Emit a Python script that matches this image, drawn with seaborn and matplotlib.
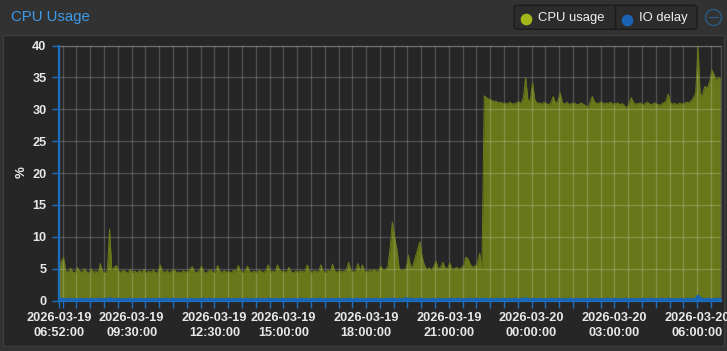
import numpy as np
import pandas as pd
import matplotlib
matplotlib.use("Agg")
import matplotlib.pyplot as plt
import matplotlib.dates as mdates
import seaborn as sns
from matplotlib.patches import Rectangle, FancyBboxPatch
from matplotlib.lines import Line2D

# ---------------- data ----------------
start_time = "2026-03-19 06:52"
sample_step = "5min"

cpu_usage = [
    5.3, 6.2, 6.7, 4.6, 4.4, 5.1, 4.5, 4.3, 5.2, 4.6, 4.4, 5.0,
    4.5, 4.3, 5.0, 4.4, 4.6, 4.3, 5.8, 4.5, 4.4, 4.6, 11.2, 4.7,
    5.2, 5.5, 4.6, 4.4, 4.8, 4.5, 4.3, 4.9, 4.4, 4.6, 4.3, 4.7,
    4.4, 4.9, 4.3, 4.6, 4.4, 4.8, 4.3, 4.5, 5.6, 4.6, 4.4, 4.7,
    4.3, 4.6, 4.9, 4.4, 4.5, 4.3, 4.7, 4.4, 4.6, 4.9, 5.3, 4.5,
    4.4, 4.7, 5.4, 4.5, 4.3, 4.6, 4.8, 4.4, 4.5, 5.5, 4.6, 4.4,
    4.7, 4.4, 4.6, 4.3, 4.8, 4.5, 5.5, 4.6, 4.4, 4.7, 5.4, 4.5,
    4.4, 4.6, 4.3, 4.8, 4.5, 4.4, 4.7, 5.6, 4.5, 4.6, 4.4, 5.6,
    4.8, 4.5, 4.6, 4.4, 5.2, 4.5, 4.3, 4.6, 4.4, 4.7, 4.5, 4.6,
    5.6, 4.6, 4.4, 4.7, 4.5, 4.6, 5.6, 4.5, 4.4, 4.8, 4.5, 5.7,
    4.6, 4.4, 4.7, 4.5, 4.6, 4.8, 6.0, 4.7, 4.5, 4.6, 5.8, 4.7,
    5.6, 4.6, 4.5, 4.7, 4.6, 4.9, 4.6, 4.7, 5.4, 4.8, 4.9, 5.2,
    8.0, 12.3, 10.0, 8.0, 5.0, 4.8, 4.9, 5.0, 7.1, 5.2, 5.5, 6.8,
    8.0, 9.2, 6.8, 5.5, 4.9, 5.1, 4.8, 5.3, 6.2, 5.0, 5.2, 6.0,
    5.1, 5.0, 5.9, 4.9, 5.0, 5.2, 4.9, 5.1, 5.5, 6.8, 6.5, 5.6,
    5.2, 5.4, 5.8, 7.4, 5.0, 32.1, 31.8, 31.6, 31.5, 31.2, 31.3, 31.0,
    31.1, 30.9, 31.0, 30.8, 31.1, 30.9, 30.8, 31.0, 31.2, 30.9, 31.8, 35.0,
    31.5, 31.3, 34.2, 31.5, 30.9, 31.0, 30.8, 31.1, 30.9, 30.7, 31.0, 32.0,
    31.0, 31.2, 32.6, 31.0, 30.8, 31.1, 30.7, 30.9, 31.0, 30.8, 30.7, 31.0,
    30.8, 30.6, 30.2, 31.0, 32.0, 31.1, 30.9, 31.0, 31.2, 30.8, 31.0, 30.9,
    31.1, 30.8, 30.9, 31.0, 30.7, 30.9, 30.6, 30.1, 31.0, 31.8, 31.0, 30.8,
    30.9, 31.0, 30.7, 30.9, 31.1, 30.8, 30.7, 31.0, 30.9, 30.6, 30.8, 31.0,
    31.2, 32.4, 31.0, 30.8, 30.9, 30.7, 31.0, 30.8, 30.9, 31.1, 31.0, 31.3,
    31.8, 32.6, 39.8, 31.8, 32.5, 33.6, 33.3, 34.2, 36.2, 35.4, 34.5, 35.0,
    34.6,
]

io_delay = [
    0.3, 0.2, 0.2, 0.1, 0.2, 0.2, 0.1, 0.2, 0.1, 0.2, 0.2, 0.1,
    0.2, 0.1, 0.2, 0.2, 0.1, 0.2, 0.2, 0.1, 0.2, 0.2, 0.3, 0.2,
    0.1, 0.2, 0.2, 0.1, 0.2, 0.1, 0.2, 0.2, 0.1, 0.2, 0.1, 0.2,
    0.2, 0.1, 0.2, 0.2, 0.1, 0.2, 0.1, 0.2, 0.2, 0.1, 0.2, 0.2,
    0.1, 0.2, 0.2, 0.1, 0.2, 0.1, 0.2, 0.2, 0.1, 0.2, 0.2, 0.1,
    0.2, 0.1, 0.2, 0.2, 0.1, 0.2, 0.2, 0.1, 0.2, 0.1, 0.2, 0.2,
    0.1, 0.2, 0.2, 0.1, 0.2, 0.1, 0.2, 0.2, 0.1, 0.2, 0.2, 0.1,
    0.2, 0.1, 0.2, 0.2, 0.1, 0.2, 0.1, 0.2, 0.2, 0.1, 0.2, 0.2,
    0.1, 0.2, 0.2, 0.1, 0.2, 0.1, 0.2, 0.2, 0.1, 0.2, 0.2, 0.1,
    0.2, 0.1, 0.2, 0.2, 0.1, 0.2, 0.2, 0.1, 0.2, 0.1, 0.2, 0.2,
    0.1, 0.2, 0.2, 0.1, 0.2, 0.1, 0.2, 0.2, 0.1, 0.2, 0.2, 0.1,
    0.2, 0.1, 0.2, 0.2, 0.1, 0.2, 0.2, 0.1, 0.2, 0.1, 0.2, 0.2,
    0.2, 0.2, 0.2, 0.1, 0.2, 0.1, 0.2, 0.3, 0.2, 0.2, 0.2, 0.1,
    0.2, 0.2, 0.2, 0.1, 0.2, 0.1, 0.2, 0.2, 0.1, 0.2, 0.2, 0.1,
    0.2, 0.1, 0.2, 0.2, 0.1, 0.2, 0.2, 0.1, 0.2, 0.1, 0.2, 0.2,
    0.1, 0.2, 0.2, 0.1, 0.2, 0.2, 0.2, 0.1, 0.2, 0.1, 0.2, 0.2,
    0.1, 0.2, 0.2, 0.1, 0.2, 0.1, 0.2, 0.2, 0.1, 0.2, 0.2, 0.3,
    0.2, 0.1, 0.2, 0.2, 0.1, 0.2, 0.2, 0.1, 0.2, 0.1, 0.2, 0.2,
    0.1, 0.2, 0.2, 0.1, 0.2, 0.1, 0.2, 0.2, 0.1, 0.2, 0.2, 0.1,
    0.2, 0.1, 0.2, 0.2, 0.1, 0.2, 0.2, 0.1, 0.2, 0.1, 0.2, 0.2,
    0.1, 0.2, 0.2, 0.1, 0.2, 0.1, 0.2, 0.2, 0.1, 0.2, 0.2, 0.1,
    0.2, 0.1, 0.2, 0.2, 0.1, 0.2, 0.2, 0.1, 0.2, 0.1, 0.2, 0.2,
    0.1, 0.2, 0.2, 0.1, 0.2, 0.1, 0.2, 0.2, 0.1, 0.2, 0.2, 0.1,
    0.2, 0.2, 0.7, 0.3, 0.2, 0.1, 0.2, 0.2, 0.1, 0.2, 0.2, 0.2,
    0.2,
]

x_label_times = [
    "2026-03-19 06:52:00", "2026-03-19 09:30:00", "2026-03-19 12:30:00",
    "2026-03-19 15:00:00", "2026-03-19 18:00:00", "2026-03-19 21:00:00",
    "2026-03-20 00:00:00", "2026-03-20 03:00:00", "2026-03-20 06:00:00",
]
y_ticks = [0, 5, 10, 15, 20, 25, 30, 35, 40]
series_names = ["CPU usage", "IO delay"]
title_text = "CPU Usage"
y_label = "%"

# ---------------- styling ----------------
W, H = 727, 351
BG_HEADER = "#323232"
BG_BODY = "#262626"
CPU_FILL = "#687719"
CPU_DOT = "#a3b71c"
IO_COLOR = "#1a64b4"
AXIS_BLUE = "#1c6fc0"
TEXT = "#e8e8e8"

times = pd.date_range(start_time, periods=len(cpu_usage), freq=sample_step)
df = pd.DataFrame({"time": times, "cpu": cpu_usage, "io": io_delay})

sns.set_theme(style="dark")
plt.rcParams["font.family"] = ["Liberation Sans", "DejaVu Sans"]

fig = plt.figure(figsize=(W / 100, H / 100), dpi=100, facecolor=BG_HEADER)


def fx(x):
    return x / W


def fy(y):
    return 1 - y / H


# panel body
fig.add_artist(Rectangle((fx(3), fy(346)), 721 / W, (346 - 34.5) / H,
                         transform=fig.transFigure, facecolor=BG_BODY,
                         edgecolor="#3c3c3c", lw=1, zorder=0))

ax = fig.add_axes([fx(59), fy(300.5), 662 / W, 255 / H])
ax.set_facecolor(BG_BODY)

ax.fill_between(df["time"], 0, df["cpu"], color=CPU_FILL, lw=0, zorder=2)
sns.lineplot(data=df, x="time", y="cpu", color="#6a7a1a", lw=0.7, ax=ax, zorder=3)
ax.fill_between(df["time"], 0, df["io"], color=IO_COLOR, lw=0, zorder=4)
sns.lineplot(data=df, x="time", y="io", color=IO_COLOR, lw=2.0, ax=ax, zorder=7)

t0 = pd.Timestamp(start_time)
t1 = times[-1]
ax.set_xlim(t0, t1)
ax.set_ylim(0, 40)

half_hours = pd.date_range("2026-03-19 07:00", t1, freq="30min")
xt = [t0] + list(half_hours)
lab_set = {pd.Timestamp(s): s.replace(" ", "\n") for s in x_label_times}
xt_all = sorted(set(xt) | set(lab_set.keys()))
ax.set_xticks(xt_all)
ax.set_xticklabels([lab_set.get(t, "") for t in xt_all])
ax.set_yticks(y_ticks)
ax.set_yticklabels([str(v) for v in y_ticks])

ax.tick_params(axis="x", length=5, width=1, color=AXIS_BLUE, labelcolor=TEXT,
               labelsize=9.2, pad=3.5, bottom=True)
ax.tick_params(axis="y", length=5, width=1, color=AXIS_BLUE, labelcolor=TEXT,
               labelsize=9.2, pad=4, left=True)
for lbl in ax.get_xticklabels() + ax.get_yticklabels():
    lbl.set_fontweight("bold")
for lbl in ax.get_xticklabels():
    lbl.set_linespacing(1.3)

ax.grid(True, color="white", alpha=0.19, lw=1)
ax.set_axisbelow(False)

for side in ["left", "bottom"]:
    ax.spines[side].set_color(AXIS_BLUE)
    ax.spines[side].set_linewidth(1.6)
    ax.spines[side].set_zorder(6)
for side in ["top", "right"]:
    ax.spines[side].set_color("#4e4e4e")
    ax.spines[side].set_linewidth(1)
    ax.spines[side].set_visible(True)

ax.set_xlabel("")
ax.set_ylabel("")
fig.text(fx(22), fy(172), y_label, rotation=90, ha="center", va="center",
         color=TEXT, fontsize=9.5, fontweight="bold")

# header
fig.text(fx(11), fy(17.5), title_text, color="#3d9be9", fontsize=10.8,
         ha="left", va="center")

# legend box
fig.add_artist(FancyBboxPatch((fx(514), fy(29.3)), 183 / W, 24 / H,
                              boxstyle="round,pad=0,rounding_size=0.006",
                              transform=fig.transFigure, facecolor="#2c2c2c",
                              edgecolor="#1c1c1c", lw=1))
fig.add_artist(Line2D([fx(614.7), fx(614.7)], [fy(5.5), fy(29)],
                      transform=fig.transFigure, color="#1c1c1c", lw=1))
fig.add_artist(Line2D([fx(526)], [fy(19)], transform=fig.transFigure,
                      marker="o", ms=7.4, color=CPU_DOT, lw=0))
fig.add_artist(Line2D([fx(627.3)], [fy(20)], transform=fig.transFigure,
                      marker="o", ms=7.4, color=IO_COLOR, lw=0))
fig.text(fx(537.5), fy(17.5), series_names[0], color="#f0f0f0", fontsize=9.4,
         ha="left", va="center")
fig.text(fx(639.3), fy(17.5), series_names[1], color="#f0f0f0", fontsize=9.4,
         ha="left", va="center")

# collapse icon
fig.add_artist(Line2D([fx(713.3)], [fy(17.3)], transform=fig.transFigure,
                      marker="o", ms=11.5, mfc="none", mec="#2a5a82", mew=1, lw=0))
fig.add_artist(Line2D([fx(708.5), fx(718.1)], [fy(17.3), fy(17.3)],
                      transform=fig.transFigure, color="#2a5a82", lw=1))

fig.savefig("out.png", dpi=100, facecolor=fig.get_facecolor())
